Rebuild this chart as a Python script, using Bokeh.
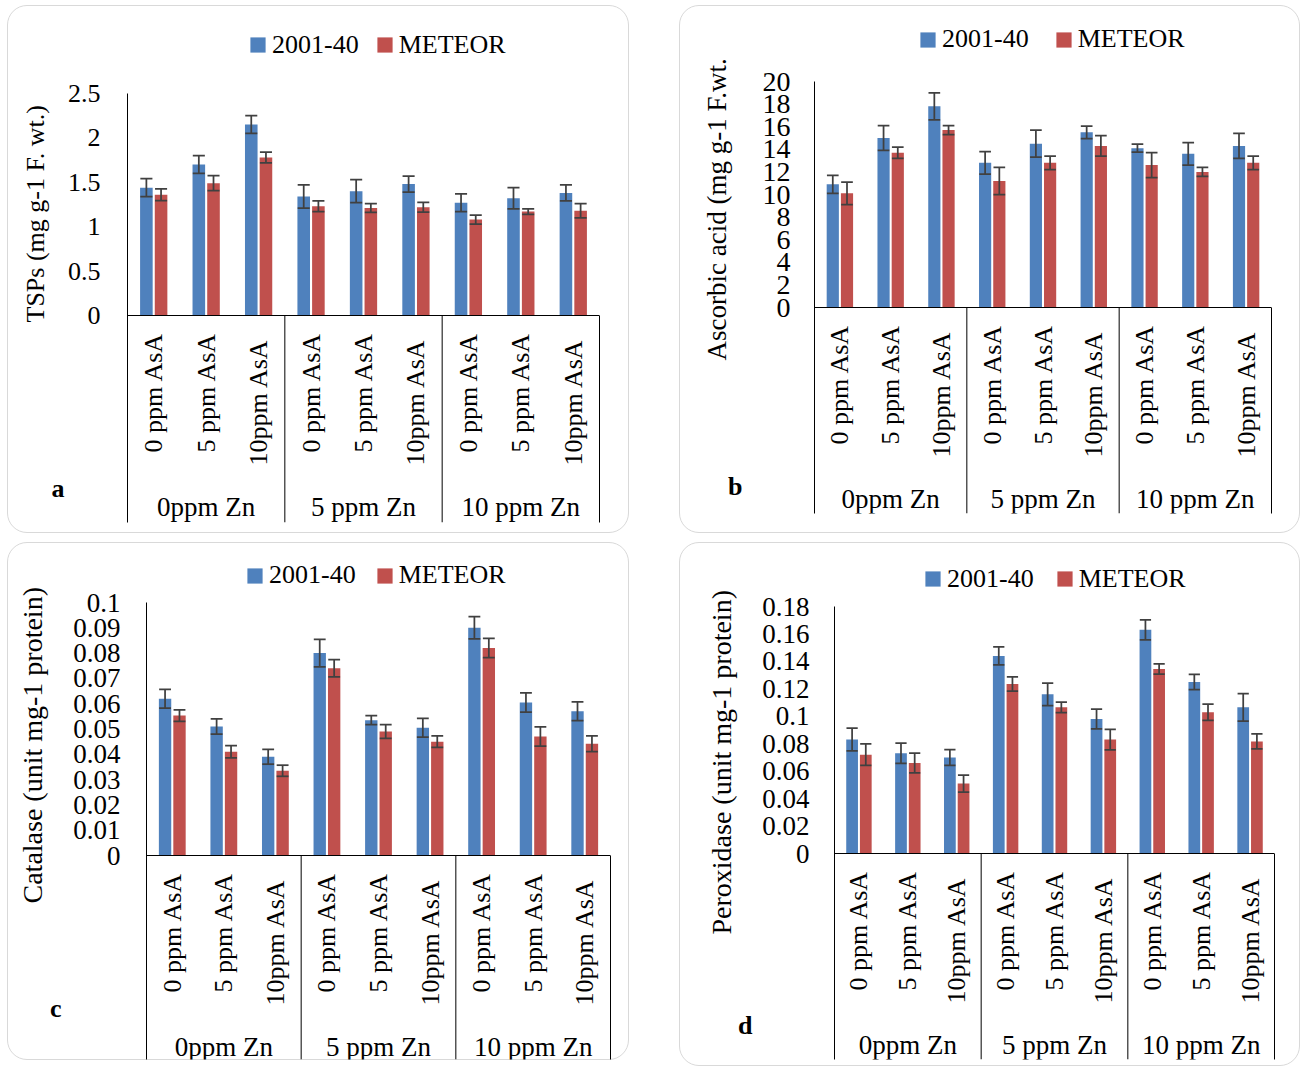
from math import pi
from bokeh.plotting import figure
from bokeh.models import (FactorRange, Range1d, LinearAxis, FixedTicker, CustomJSTickFormatter,
                          ColumnDataSource, Span, Legend, LegendItem, Title)
from bokeh.transform import dodge
from bokeh.layouts import column, row
from bokeh.embed import file_html
from bokeh.resources import INLINE
from bokeh.core.properties import value

# ---------------- data ----------------
zn_levels = ["0ppm Zn", "5 ppm Zn", "10 ppm Zn"]
asa_levels = ["0 ppm AsA", "5 ppm AsA", "10ppm  AsA"]
series = ["2001-40", "METEOR"]

tsp_2001 = [1.44, 1.70, 2.15, 1.34, 1.40, 1.48, 1.27, 1.32, 1.38]
tsp_2001_err = [0.10, 0.10, 0.10, 0.13, 0.13, 0.09, 0.10, 0.12, 0.09]
tsp_meteor = [1.36, 1.49, 1.78, 1.23, 1.21, 1.22, 1.08, 1.17, 1.18]
tsp_meteor_err = [0.065, 0.085, 0.06, 0.06, 0.05, 0.055, 0.05, 0.03, 0.08]
tsp_ticks = [0, 0.5, 1, 1.5, 2, 2.5]

asc_2001 = [10.9, 15.0, 17.8, 12.8, 14.5, 15.5, 14.1, 13.6, 14.3]
asc_2001_err = [0.8, 1.1, 1.2, 1.0, 1.2, 0.55, 0.35, 1.0, 1.1]
asc_meteor = [10.1, 13.7, 15.7, 11.2, 12.8, 14.3, 12.6, 12.0, 12.8]
asc_meteor_err = [1.0, 0.5, 0.4, 1.2, 0.6, 0.9, 1.1, 0.4, 0.6]
asc_ticks = [0, 2, 4, 6, 8, 10, 12, 14, 16, 18, 20]

cat_2001 = [0.062, 0.051, 0.039, 0.080, 0.0535, 0.0505, 0.090, 0.0605, 0.057]
cat_2001_err = [0.0037, 0.003, 0.0029, 0.0054, 0.0018, 0.0037, 0.0044, 0.0038, 0.0037]
cat_meteor = [0.0553, 0.041, 0.0335, 0.074, 0.049, 0.045, 0.082, 0.047, 0.0442]
cat_meteor_err = [0.0023, 0.0024, 0.0022, 0.0034, 0.0027, 0.0023, 0.0038, 0.0038, 0.0031]
cat_ticks = [0, 0.01, 0.02, 0.03, 0.04, 0.05, 0.06, 0.07, 0.08, 0.09, 0.1]

pox_2001 = [0.083, 0.073, 0.070, 0.144, 0.116, 0.098, 0.163, 0.125, 0.1065]
pox_2001_err = [0.0083, 0.0074, 0.0057, 0.0066, 0.0082, 0.0072, 0.0073, 0.0056, 0.010]
pox_meteor = [0.072, 0.066, 0.051, 0.1235, 0.1065, 0.083, 0.1345, 0.103, 0.0817]
pox_meteor_err = [0.0078, 0.0072, 0.0062, 0.0052, 0.0038, 0.0074, 0.0037, 0.0059, 0.0054]
pox_ticks = [0, 0.02, 0.04, 0.06, 0.08, 0.1, 0.12, 0.14, 0.16, 0.18]

ylabels = ["TSPs (mg g-1 F. wt.)", "Ascorbic acid (mg g-1 F.wt.",
           "Catalase (unit mg-1 protein)", "Peroxidase (unit mg-1 protein)"]
letters = ["a", "b", "c", "d"]

# ---------------- style / layout (pixels) ----------------
FONT = "Liberation Serif"
BLUE = "#4f81bd"
RED = "#c0504d"
ERR = "#404040"
FTOP = 10  # frame top (legend lives inside the frame, above the value area)

layouts = [
    dict(W=622, H=528, left=120, right=592, top=88, zero=310, bottom=517,
         tickfs=26, lstand=27, labfs=26, toff=200, tstand=-2,
         leg=(241, 39.5), legsp=16, let_dy=173, let_stand=0),
    dict(W=621, H=528, left=135, right=592, top=76, zero=302, bottom=508,
         tickfs=28, lstand=24, labfs=27, toff=153, tstand=-12,
         leg=(239, 34.3), legsp=25, let_dy=179, let_stand=17),
    dict(W=622, H=518, left=139, right=603, top=60, zero=313, bottom=517,
         tickfs=27, lstand=26, labfs=28, toff=156, tstand=-2,
         leg=(238, 33), legsp=19, let_dy=153, let_stand=9),
    dict(W=621, H=524, left=155, right=595, top=64, zero=311, bottom=517,
         tickfs=27, lstand=25, labfs=28, toff=125, tstand=-2,
         leg=(244, 36.7), legsp=21, let_dy=172, let_stand=7),
]


def make_panel(spec, v1, e1, v2, e2, ticks, ylabel, letter):
    W, H = spec["W"], spec["H"]
    left, right, top, zero, bottom = spec["left"], spec["right"], spec["top"], spec["zero"], spec["bottom"]
    ymax = ticks[-1]
    ppu = (zero - top) / ymax
    ystart = -(bottom - zero) / ppu
    yend = ymax + (top - FTOP) / ppu

    factors = [(z, a) for z in zn_levels for a in asa_levels]
    p = figure(frame_width=right - left, frame_height=bottom - FTOP,
               x_range=FactorRange(*factors, factor_padding=0, group_padding=0, range_padding=0),
               y_range=Range1d(ystart, yend),
               output_backend="svg", toolbar_location=None,
               x_axis_location=None, y_axis_location=None,
               min_border_left=left, min_border_right=W - right,
               min_border_top=FTOP, min_border_bottom=H - bottom)
    p.outline_line_color = None
    p.background_fill_color = None
    p.border_fill_color = None
    p.xgrid.visible = False
    p.ygrid.visible = False
    p.styles = {"outline": "1.5px solid #d9d9d9", "outline-offset": "-1.5px", "border-radius": "20px"}

    src = ColumnDataSource(dict(
        x=factors, v1=v1, v2=v2,
        lo1=[v - e for v, e in zip(v1, e1)], hi1=[v + e for v, e in zip(v1, e1)],
        lo2=[v - e for v, e in zip(v2, e2)], hi2=[v + e for v, e in zip(v2, e2)],
        sub=[a for _, a in factors]))

    off, bw, cap = 0.14, 0.24, 0.115
    r1 = p.vbar(x=dodge("x", -off, range=p.x_range), top="v1", width=bw, source=src,
                fill_color=BLUE, line_color=None)
    r2 = p.vbar(x=dodge("x", off, range=p.x_range), top="v2", width=bw, source=src,
                fill_color=RED, line_color=None)
    for o, lo, hi in ((-off, "lo1", "hi1"), (off, "lo2", "hi2")):
        p.segment(x0=dodge("x", o, range=p.x_range), x1=dodge("x", o, range=p.x_range),
                  y0=lo, y1=hi, source=src, line_color=ERR, line_width=1.75)
        for yy in (lo, hi):
            p.segment(x0=dodge("x", o - cap, range=p.x_range), x1=dodge("x", o + cap, range=p.x_range),
                      y0=yy, y1=yy, source=src, line_color=ERR, line_width=1.75)

    # baseline and group separators
    p.add_layout(Span(location=0, dimension="width", line_color="black", line_width=1))
    seps = [len(asa_levels) * (i + 1) for i in range(len(zn_levels) - 1)]
    p.segment(x0=seps, x1=seps, y0=[0] * len(seps), y1=[ystart] * len(seps),
              line_color="black", line_width=1)

    # category labels
    p.text(x="x", y=0, text="sub", source=src, angle=pi / 2, text_align="right",
           text_baseline="middle", y_offset=17, text_font=value(FONT), text_font_size="26px",
           text_color="black")
    gx = [(z, asa_levels[1]) for z in zn_levels]
    p.text(x=gx, y=[0] * len(gx), text=zn_levels, text_align="center", text_baseline="alphabetic",
           y_offset=191, text_font=value(FONT), text_font_size="27px", text_color="black")

    # value axis
    ax = LinearAxis(ticker=FixedTicker(ticks=ticks), bounds=(ystart, ymax),
                    formatter=CustomJSTickFormatter(code="return String(tick)"),
                    axis_line_color="black", axis_line_width=1,
                    major_tick_line_color=None, minor_tick_line_color=None,
                    major_tick_out=0, major_tick_in=0,
                    major_label_standoff=spec["lstand"], major_label_text_font=FONT,
                    major_label_text_font_size=f"{spec['tickfs']}px", major_label_text_color="black")
    p.add_layout(ax, "left")
    # panel letter (a, b, c, d) as a one-tick axis beside the value axis
    lax = LinearAxis(ticker=FixedTicker(ticks=[-spec["let_dy"] / ppu]),
                     formatter=CustomJSTickFormatter(code=f"return '{letter}'"),
                     axis_line_color=None, major_tick_line_color=None, minor_tick_line_color=None,
                     major_tick_out=0, major_tick_in=0, major_label_standoff=spec["let_stand"],
                     major_label_text_font=FONT, major_label_text_font_size="26px",
                     major_label_text_font_style="bold", major_label_text_color="black")
    p.add_layout(lax, "left")
    # y title
    p.add_layout(Title(text=ylabel, align="left", offset=spec["toff"], standoff=spec["tstand"],
                       text_font=FONT, text_font_size=f"{spec['labfs']}px",
                       text_font_style="normal", text_color="black"), "left")
    # right end line below the baseline
    rax = LinearAxis(bounds=(ystart, 0), ticker=FixedTicker(ticks=[]),
                     axis_line_color="black", axis_line_width=1,
                     major_tick_line_color=None, minor_tick_line_color=None,
                     major_tick_out=0, major_tick_in=0, major_label_text_font_size="0px")
    p.add_layout(rax, "right")

    # legend (inside the frame, above the value area)
    lx, lyc = spec["leg"]
    rowh = 30
    legend = Legend(items=[LegendItem(label=series[0], renderers=[r1]),
                           LegendItem(label=series[1], renderers=[r2])],
                    orientation="horizontal",
                    location=(lx - left, bottom - lyc - rowh / 2),
                    padding=0, margin=0, spacing=int(spec["legsp"]), label_standoff=5,
                    glyph_width=19, glyph_height=19, label_height=rowh,
                    label_text_font=FONT, label_text_font_size="26px", label_text_color="black",
                    border_line_color=None, background_fill_alpha=0)
    p.add_layout(legend)
    return p


pa = make_panel(layouts[0], tsp_2001, tsp_2001_err, tsp_meteor, tsp_meteor_err, tsp_ticks, ylabels[0], letters[0])
pb = make_panel(layouts[1], asc_2001, asc_2001_err, asc_meteor, asc_meteor_err, asc_ticks, ylabels[1], letters[1])
pc = make_panel(layouts[2], cat_2001, cat_2001_err, cat_meteor, cat_meteor_err, cat_ticks, ylabels[2], letters[2])
pd = make_panel(layouts[3], pox_2001, pox_2001_err, pox_meteor, pox_meteor_err, pox_ticks, ylabels[3], letters[3])

page = column(row(pa, pb, spacing=50), row(pc, pd, spacing=50), spacing=9, margin=(5, 0, 0, 7))
open("out.html", "w").write(file_html(page, INLINE))
